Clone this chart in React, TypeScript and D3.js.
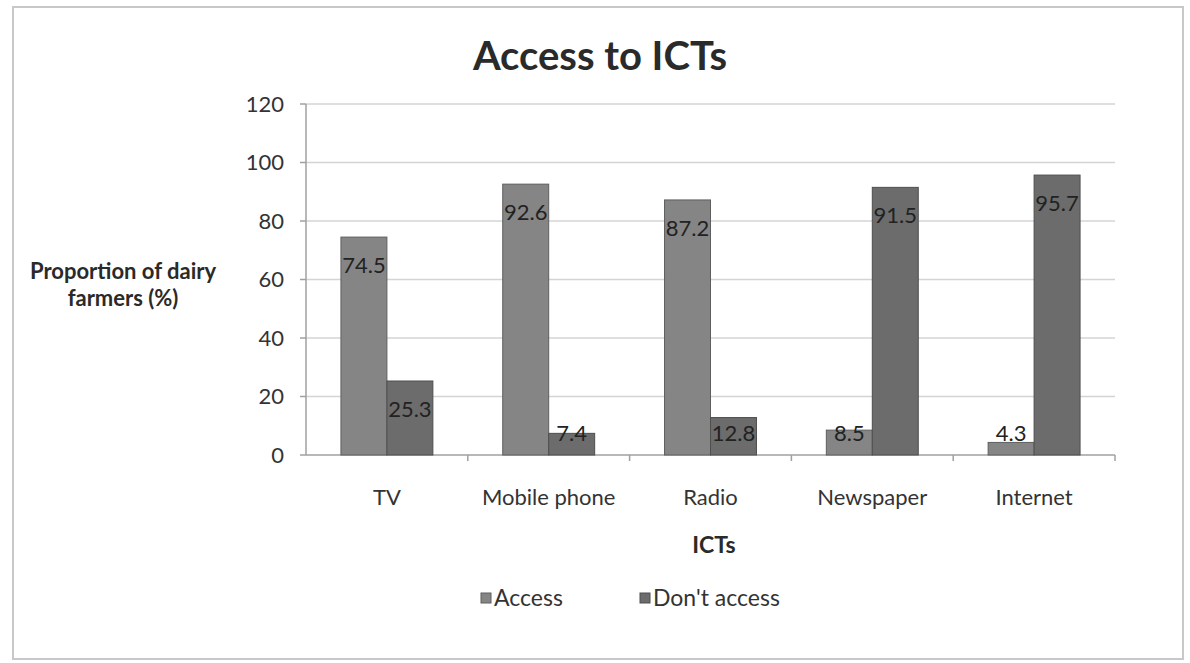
import React from "react";
import * as d3 from "d3";

const categories = ["TV", "Mobile phone", "Radio", "Newspaper", "Internet"];
const seriesNames = ["Access", "Don't access"];
const accessValues = [74.5, 92.6, 87.2, 8.5, 4.3];
const dontAccessValues = [25.3, 7.4, 12.8, 91.5, 95.7];
const yTicks = [0, 20, 40, 60, 80, 100, 120];
const seriesColors = ["#858585", "#6c6c6c"];
const seriesStroke = ["#5e5e5e", "#4e4e4e"];

export default function App() {
  const W = 1190, H = 663;
  const left = 306, right = 1115, top = 104, bottom = 455;
  const font = "Lato, 'Open Sans', sans-serif";
  const x = d3.scaleBand<string>().domain(categories).range([left, right]).paddingInner(0).paddingOuter(0);
  const y = d3.scaleLinear().domain([0, 120]).range([bottom, top]);
  const inner = d3.scaleBand<string>().domain(seriesNames).range([0, x.bandwidth()]).paddingInner(0).paddingOuter(0.76);
  const series = [accessValues, dontAccessValues];

  return (
    <svg width={W} height={H} style={{ position: "absolute", left: 0, top: 0, background: "#fff" }}>
      <rect x={13} y={7} width={1170} height={652} fill="#fff" stroke="#c8c8c8" strokeWidth={2} />
      <text x={600} y={70} textAnchor="middle" fontFamily={font} fontWeight="bold" fontSize={40} fill="#2a2a2a">Access to ICTs</text>
      {yTicks.map(t => (
        <g key={t}>
          <line x1={left} x2={right} y1={y(t)} y2={y(t)} stroke={t === 0 ? "#a0a0a0" : "#d4d4d4"} strokeWidth={1.5} />
          <line x1={left - 6} x2={left} y1={y(t)} y2={y(t)} stroke="#a0a0a0" strokeWidth={1.5} />
          <text x={284} y={y(t)} dy="0.35em" textAnchor="end" fontFamily={font} fontSize={22} fill="#333">{t}</text>
        </g>
      ))}
      <line x1={left} x2={left} y1={top} y2={bottom} stroke="#a0a0a0" strokeWidth={1.5} />
      {categories.map((c, i) => (
        <line key={"t" + i} x1={(x(c) as number) + x.bandwidth()} x2={(x(c) as number) + x.bandwidth()} y1={bottom} y2={bottom + 6} stroke="#a0a0a0" strokeWidth={1.5} />
      ))}
      {categories.map((c, i) => (
        <g key={c}>
          {series.map((vals, s) => {
            const bx = (x(c) as number) + (inner(seriesNames[s]) as number);
            const by = y(vals[i]);
            const ly = Math.min(by + 28, y(0) - 22);
            return (
              <g key={s}>
                <rect x={bx} y={by} width={inner.bandwidth()} height={y(0) - by} fill={seriesColors[s]} stroke={seriesStroke[s]} strokeWidth={1} />
                <text x={bx + inner.bandwidth() / 2} y={ly} dy="0.35em" textAnchor="middle" fontFamily={font} fontSize={22} fill="#222">{vals[i]}</text>
              </g>
            );
          })}
          <text x={(x(c) as number) + x.bandwidth() / 2} y={497} dy="0.35em" textAnchor="middle" fontFamily={font} fontSize={22} fill="#333">{c}</text>
        </g>
      ))}
      <text x={123} y={271} dy="0.35em" textAnchor="middle" fontFamily={font} fontWeight="bold" fontSize={22} fill="#2a2a2a">Proportion of dairy</text>
      <text x={123} y={298} dy="0.35em" textAnchor="middle" fontFamily={font} fontWeight="bold" fontSize={22} fill="#2a2a2a">farmers (%)</text>
      <text x={714} y={545} dy="0.35em" textAnchor="middle" fontFamily={font} fontWeight="bold" fontSize={23} fill="#2a2a2a">ICTs</text>
      {seriesNames.map((n, s) => {
        const lx = s === 0 ? 481 : 640;
        return (
          <g key={n}>
            <rect x={lx} y={593} width={10} height={10} fill={seriesColors[s]} stroke={seriesStroke[s]} />
            <text x={lx + 13} y={598} dy="0.35em" fontFamily={font} fontSize={23} fill="#333">{n}</text>
          </g>
        );
      })}
    </svg>
  );
}
